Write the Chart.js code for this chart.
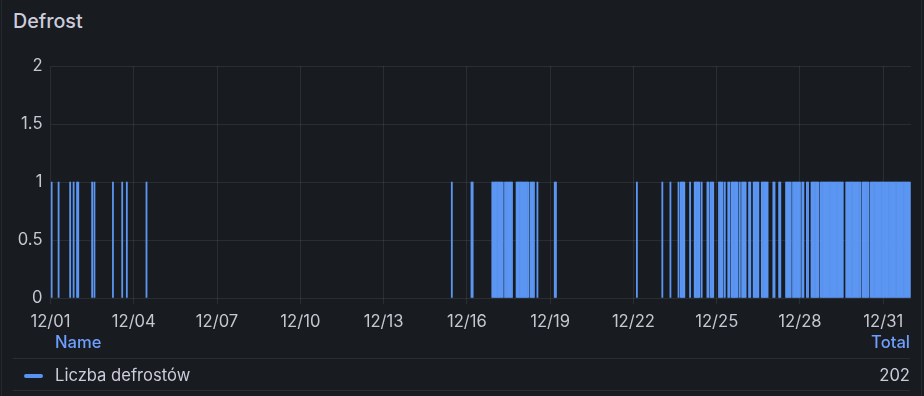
<!DOCTYPE html>
<html><head><meta charset="utf-8">
<script src="https://cdn.jsdelivr.net/npm/chart.js@4/dist/chart.umd.min.js"></script>
<style>
html,body{margin:0;padding:0;background:#181b1f;width:924px;height:396px;overflow:hidden;font-family:Inter,"Noto Sans",sans-serif;}
#panel{position:absolute;left:1px;top:-2px;width:921px;height:400px;border:1px solid #25282d;border-radius:3px;box-sizing:border-box;}
#title{position:absolute;left:13px;top:8px;font-size:19.7px;font-weight:500;color:#ccccdc;line-height:26px;}
#wrap{position:absolute;left:0;top:0;width:924px;height:340px;}
.lg{position:absolute;font-size:16.6px;line-height:20px;white-space:nowrap;}
.hd{color:#6e9fff;font-weight:500;}
.tx{color:#ccccdc;}
.ln{position:absolute;left:13px;width:897px;height:1px;background:#2a2d32;}
#sw{position:absolute;left:24px;top:374px;width:19px;height:4px;border-radius:2px;background:#5794f2;}
</style></head>
<body>
<div id="panel"></div>
<div id="title">Defrost</div>
<div id="wrap"><canvas id="c" width="924" height="340"></canvas></div>
<div class="lg hd" style="left:55px;top:332px;">Name</div>
<div class="lg hd" style="right:14px;top:332px;">Total</div>
<div class="ln" style="top:358px;"></div>
<div id="sw"></div>
<div class="lg tx" style="left:55px;top:365px;">Liczba defrostów</div>
<div class="lg tx" id="tot" style="right:14px;top:365px;"></div>
<div class="ln" style="top:390px;"></div>
<script>
// Hours since 12/01 00:00 in which a defrost was recorded (one bar = one hour with value 1)
const defrostHours = [
  1,7,17,20,23,24,36,38,54,62,66,83,
  347,364,365,
  382,383,384,385,386,387,388,389,390,391,
  393,394,395,396,397,398,399,
  403,404,405,406,407,408,409,410,411,412,413,
  415,416,417,418,421,436,437,507,
  529,536,543,545,546,547,548,553,557,558,559,560,561,563,568,569,571,572,573,
  578,579,580,581,583,586,587,589,590,591,592,593,594,
  596,598,599,600,601,604,605,608,609,610,611,612,615,616,617,618,619,620,
  625,626,630,631,636,637,638,639,640,642,643,644,645,646,647,648,650,651,654,655,
  658,659,660,661,662,663,664,
  666,667,668,669,670,671,672,673,674,675,676,677,678,679,680,681,682,683,684,685,
  688,689,690,691,692,693,694,695,696,697,698,699,700,
  702,703,704,705,706,707,
  709,710,711,712,713,714,715,716,717,718,719,720,721,722,723,724,725,726,
  727,728,729,730,731,732,733,734,735,736,737,738,739,740,741,742,743
];
const eventValue = 1;
const seriesName = 'Liczba defrostów';
const xTickHours = [0,72,144,216,288,360,432,504,576,648,720];
const xTickLabels = ['12/01','12/04','12/07','12/10','12/13','12/16','12/19','12/22','12/25','12/28','12/31'];
const yTicks = [0,0.5,1,1.5,2];
const yTickLabels = ['0','0.5','1','1.5','2'];
const rangeHours = [0,744];

const points = defrostHours.map(h => ({x:h, y:eventValue}));
document.getElementById('tot').textContent = points.reduce((s,p)=>s+p.y,0);

const gridCol = 'rgba(204,204,220,0.10)';
const tickCol = '#c6c7d1';
const tickFont = {family:'Inter', size:16.6};

new Chart(document.getElementById('c'), {
  type:'bar',
  data:{datasets:[{label:seriesName, data:points, backgroundColor:'#5b96f2', borderWidth:0,
    barPercentage:1, categoryPercentage:1}]},
  options:{
    responsive:false, animation:false, devicePixelRatio:1,
    layout:{padding:{top:66,right:13,left:0,bottom:0}},
    plugins:{legend:{display:false}, tooltip:{enabled:false}},
    scales:{
      x:{type:'linear', min:rangeHours[0], max:rangeHours[1], offset:false,
        grid:{offset:false, color:gridCol, tickColor:gridCol, tickLength:6, drawTicks:true},
        border:{display:false},
        afterBuildTicks:s=>{s.ticks = xTickHours.map(v=>({value:v}));},
        afterFit:s=>{s.height = 42;},
        ticks:{color:tickCol, font:tickFont, padding:8, maxRotation:0, autoSkip:false,
          callback:(v)=>{const i = xTickHours.indexOf(v); return i>=0 ? xTickLabels[i] : '';}}
      },
      y:{type:'linear', min:0, max:2,
        grid:{color:gridCol, drawTicks:false},
        border:{display:false},
        afterBuildTicks:s=>{s.ticks = yTicks.map(v=>({value:v}));},
        afterFit:s=>{s.width = 50.5;},
        ticks:{color:tickCol, font:tickFont, padding:8,
          callback:(v)=>{const i = yTicks.indexOf(v); return i>=0 ? yTickLabels[i] : '';}}
      }
    }
  }
});
</script>
</body></html>
